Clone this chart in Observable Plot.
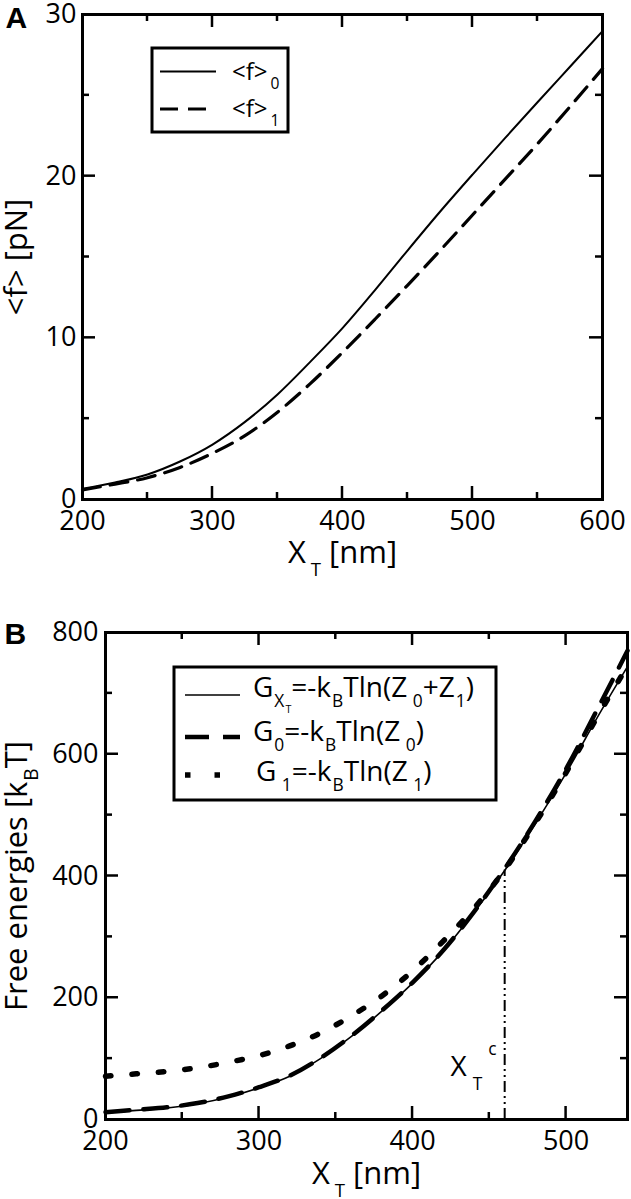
<!DOCTYPE html>
<html>
<head>
<meta charset="utf-8">
<script src="https://cdn.jsdelivr.net/npm/d3@7"></script>
<script src="https://cdn.jsdelivr.net/npm/@observablehq/plot@0.6"></script>
<style>
  html, body { margin: 0; padding: 0; background: #fff; }
  #wrap { width: 631px; height: 1199px; overflow: hidden; }
  #wrap svg { display: block; }
</style>
</head>
<body>
<div id="wrap"></div>
<script>
// ---------- Panel A data: mean force vs trap position ----------
const xA = [200, 225, 250, 275, 300, 325, 350, 375, 400, 425, 450, 475, 500, 525, 550, 575, 600];
const f0 = [0.66, 1.05, 1.55, 2.35, 3.4, 4.8, 6.5, 8.5, 10.6, 12.95, 15.4, 17.8, 20.1, 22.35, 24.57, 26.77, 28.97];
const f1 = [0.6, 0.95, 1.35, 1.98, 2.86, 3.95, 5.4, 7.15, 9.1, 11.15, 13.25, 15.4, 17.6, 19.8, 22.0, 24.3, 26.65];
const xDomainA = [200, 600];
const yDomainA = [0, 30];
const xTicksA = [200, 300, 400, 500, 600];
const xMinorA = [250, 350, 450, 550];
const yTicksA = [0, 10, 20, 30];
const yMinorA = [5, 15, 25];
const legendA = ["<f>_{0}", "<f>_{1}"];

// ---------- Panel B data: free energies vs trap position ----------
const xB = [200, 220, 240, 260, 280, 300, 320, 340, 360, 380, 400, 420, 440, 460, 480, 500, 520, 540];
const gXT = [11, 15, 19, 26, 37, 52, 71, 100, 136, 178, 224, 277, 340, 409, 486, 569, 659, 744];
const g0  = [12, 16, 20, 27, 38, 53, 72, 101, 137, 179, 225, 278, 341, 412, 490, 576, 672, 770];
const g1  = [71, 75, 79, 85, 94, 105, 121, 142, 170, 203, 244, 293, 347, 410, 487, 570, 660, 745];
const xDomainB = [200, 540];
const yDomainB = [0, 800];
const xTicksB = [200, 300, 400, 500];
const xMinorB = [250, 350, 450];
const yTicksB = [0, 200, 400, 600, 800];
const yMinorB = [100, 300, 500, 700];
const xCrit = 460;   // X_T^c
const gCrit = 410;   // free energy at the crossing
const legendB = ["G_{X_{T}}=-k_{B}Tln(Z_{ 0}+Z_{1})", "G_{0}=-k_{B}Tln(Z_{ 0})", "G_{ 1}=-k_{B}Tln(Z_{ 1})"];

// ---------- helpers ----------
const SVGNS = "http://www.w3.org/2000/svg";
const FONT = "Open Sans";

function parseRich(s) {
  const out = [];
  let i = 0;
  function rec(stack) {
    let buf = "";
    while (i < s.length) {
      const c = s[i];
      if (c === "_" || c === "^") {
        if (buf) { out.push({t: buf, stack: stack.slice()}); buf = ""; }
        i++;
        const type = c === "_" ? "sub" : "sup";
        if (s[i] === "{") { i++; rec(stack.concat(type)); }
        else { out.push({t: s[i], stack: stack.concat(type)}); i++; }
      } else if (c === "}") { i++; break; }
      else { buf += c; i++; }
    }
    if (buf) out.push({t: buf, stack: stack.slice()});
  }
  rec([]);
  return out;
}

function richify(el, str, o) {
  const base = o.size, scale = o.scale ?? 0.62, subS = o.sub ?? 0.38, supS = o.sup ?? 0.5, gap = o.gap ?? 2;
  while (el.firstChild) el.removeChild(el.firstChild);
  let cur = 0, prevKey = "";
  for (const seg of parseRich(str)) {
    let size = base, shift = 0;
    for (const t of seg.stack) { shift += t === "sub" ? subS * size : -supS * size; size *= scale; }
    const key = seg.stack.join(",");
    const ts = document.createElementNS(SVGNS, "tspan");
    ts.setAttribute("font-size", size);
    if (shift - cur !== 0) ts.setAttribute("dy", shift - cur);
    if (seg.stack.length > 0 && key !== prevKey && !prevKey.startsWith(key + ",")) ts.setAttribute("dx", gap);
    ts.textContent = seg.t;
    el.appendChild(ts);
    cur = shift; prevKey = key;
  }
}

function rewrite(svg, str, o) {
  for (const t of svg.querySelectorAll("text")) if (t.textContent === str) richify(t, str, o);
}

function addText(parent, x, y, str, o) {
  const t = document.createElementNS(SVGNS, "text");
  t.setAttribute("x", x); t.setAttribute("y", y);
  t.setAttribute("font-family", FONT);
  t.setAttribute("font-size", o.size);
  t.setAttribute("text-anchor", "start");
  t.setAttribute("fill", "black");
  parent.appendChild(t);
  richify(t, str, o);
  return t;
}

function svgLine(parent, x1, y1, x2, y2, sw, dash) {
  const l = document.createElementNS(SVGNS, "line");
  l.setAttribute("x1", x1); l.setAttribute("x2", x2); l.setAttribute("y1", y1); l.setAttribute("y2", y2);
  l.setAttribute("stroke", "black"); l.setAttribute("stroke-width", sw);
  if (dash) l.setAttribute("stroke-dasharray", dash);
  parent.appendChild(l);
  return l;
}

// inward ticks on all four sides, positioned with the plot's own scales
function drawFrameTicks(svg, xMaj, xMin, yMaj, yMin) {
  const sx = svg.scale("x"), sy = svg.scale("y");
  const xl = Math.min(...sx.range), xr = Math.max(...sx.range);
  const yb = Math.max(...sy.range), yt = Math.min(...sy.range);
  for (const [arr, L] of [[xMaj, 13], [xMin, 7]]) for (const v of arr) {
    const x = sx.apply(v);
    svgLine(svg, x, yb, x, yb - L, 2.5);
    svgLine(svg, x, yt, x, yt + L, 2.5);
  }
  for (const [arr, L] of [[yMaj, 13], [yMin, 7]]) for (const v of arr) {
    const y = sy.apply(v);
    svgLine(svg, xl, y, xl + L, y, 2.5);
    svgLine(svg, xr, y, xr - L, y, 2.5);
  }
}

const interior = (ticks, dom) => ticks.filter(t => t > dom[0] && t < dom[1]);
const baseStyle = {fontFamily: FONT, fontSize: "27px", background: "white", color: "black", overflow: "visible"};

// ---------- Panel A ----------
const A = {width: 631, height: 590, mt: 14, mr: 29, mb: 91, ml: 82};
const dataA = xA.map((x, i) => ({x, f0: f0[i], f1: f1[i]}));

const plotA = Plot.plot({
  width: A.width, height: A.height,
  marginTop: A.mt, marginRight: A.mr, marginBottom: A.mb, marginLeft: A.ml,
  x: {domain: xDomainA}, y: {domain: yDomainA},
  style: baseStyle,
  marks: [
    Plot.line(dataA, {x: "x", y: "f0", stroke: "black", strokeWidth: 2, curve: "monotone-x"}),
    Plot.line(dataA, {x: "x", y: "f1", stroke: "black", strokeWidth: 3.2, strokeDasharray: "18,10", curve: "monotone-x"}),
    Plot.frame({stroke: "black", strokeWidth: 3}),
    Plot.axisX({ticks: xTicksA, tickSize: 0, tickPadding: 11, label: null, tickFormat: d => String(d)}),
    Plot.axisY({ticks: yTicksA, tickSize: 0, tickPadding: 6, label: null, tickFormat: d => String(d)}),
    Plot.text(["X_{T} [nm]"], {text: d => d, frameAnchor: "bottom", dy: 63, lineAnchor: "bottom", textAnchor: "middle", fontSize: 31}),
    Plot.text(["<f> [pN]"], {text: d => d, frameAnchor: "left", dx: -65, rotate: -90, lineAnchor: "middle", textAnchor: "middle", fontSize: 31}),
    Plot.text(["A"], {text: d => d, frameAnchor: "top-left", dx: -77, dy: 13, lineAnchor: "bottom", textAnchor: "start", fontSize: 30, fontWeight: "bold", fontFamily: "Liberation Sans"})
  ]
});

// ---------- Panel B ----------
const B = {width: 631, height: 609, mt: 42, mr: 4, mb: 80, ml: 105};
const dataB = xB.map((x, i) => ({x, gXT: gXT[i], g0: g0[i], g1: g1[i]}));

const plotB = Plot.plot({
  width: B.width, height: B.height,
  marginTop: B.mt, marginRight: B.mr, marginBottom: B.mb, marginLeft: B.ml,
  x: {domain: xDomainB}, y: {domain: yDomainB},
  style: baseStyle,
  marks: [
    Plot.line(dataB, {x: "x", y: "g1", stroke: "black", strokeWidth: 5.5, strokeDasharray: "5.5,21", curve: "monotone-x"}),
    Plot.line(dataB, {x: "x", y: "g0", stroke: "black", strokeWidth: 4.5, strokeDasharray: "24,14", curve: "monotone-x"}),
    Plot.line(dataB, {x: "x", y: "gXT", stroke: "black", strokeWidth: 1.6, curve: "monotone-x"}),
    Plot.ruleX([xCrit], {x: d => d, y1: () => 0, y2: () => gCrit, stroke: "black", strokeWidth: 2, strokeDasharray: "11,4,2,4,2,4"}),
    Plot.text([xCrit], {x: d => d, text: () => "X_{T}^{c}", frameAnchor: "bottom", dy: -44, dx: -8, textAnchor: "end", lineAnchor: "bottom", fontSize: 28}),
    Plot.frame({stroke: "black", strokeWidth: 3}),
    Plot.axisX({ticks: xTicksB, tickSize: 0, tickPadding: 11, label: null, tickFormat: d => String(d)}),
    Plot.axisY({ticks: yTicksB, tickSize: 0, tickPadding: 7, label: null, tickFormat: d => String(d)}),
    Plot.text(["X_{T} [nm]"], {text: d => d, frameAnchor: "bottom", dy: 64, lineAnchor: "bottom", textAnchor: "middle", fontSize: 31}),
    Plot.text(["Free energies [k_{B}T]"], {text: d => d, frameAnchor: "left", dx: -88, rotate: -90, lineAnchor: "middle", textAnchor: "middle", fontSize: 31}),
    Plot.text(["B"], {text: d => d, frameAnchor: "top-left", dx: -101, dy: 11, lineAnchor: "bottom", textAnchor: "start", fontSize: 30, fontWeight: "bold", fontFamily: "Liberation Sans"})
  ]
});

const wrap = document.getElementById("wrap");
wrap.appendChild(plotA);
wrap.appendChild(plotB);

// rich text (sub/superscripts) for titles
rewrite(plotA, "X_{T} [nm]", {size: 31, sub: 0.42, scale: 0.6, gap: 5});
rewrite(plotB, "X_{T} [nm]", {size: 31, sub: 0.42, scale: 0.6, gap: 5});
rewrite(plotB, "Free energies [k_{B}T]", {size: 31, sub: 0.35, scale: 0.62, gap: 1});
rewrite(plotB, "X_{T}^{c}", {size: 28, sub: 0.5, sup: 0.72, scale: 0.62, gap: 6});

// ---------- legends ----------
function legendBox(svg, x, y, w, h) {
  const r = document.createElementNS(SVGNS, "rect");
  r.setAttribute("x", x); r.setAttribute("y", y); r.setAttribute("width", w); r.setAttribute("height", h);
  r.setAttribute("fill", "white"); r.setAttribute("stroke", "black"); r.setAttribute("stroke-width", 3);
  svg.appendChild(r);
}

// Legend A
legendBox(plotA, 152, 48, 136, 84);
svgLine(plotA, 160, 71.5, 216, 71.5, 2);
svgLine(plotA, 160, 109, 208, 109, 3.2, "18,10");
addText(plotA, 232, 80, legendA[0], {size: 24, sub: 0.38, scale: 0.65, gap: 3});
addText(plotA, 232, 117, legendA[1], {size: 24, sub: 0.38, scale: 0.65, gap: 3});

// Legend B (svg B starts at page y = 590)
legendBox(plotB, 174, 77, 322, 133);
svgLine(plotB, 185, 105, 240, 105, 1.6);
svgLine(plotB, 185, 147, 240, 147, 4.5, "24,14");
svgLine(plotB, 185, 185, 240, 185, 5.5, "5.5,24");
addText(plotB, 253, 107, legendB[0], {size: 28, sub: 0.35, scale: 0.62, gap: 1});
addText(plotB, 253, 151, legendB[1], {size: 28, sub: 0.35, scale: 0.62, gap: 1});
addText(plotB, 256, 191, legendB[2], {size: 28, sub: 0.35, scale: 0.62, gap: 1});

// frame ticks (major + minor, all four sides), drawn last
drawFrameTicks(plotA, interior(xTicksA, xDomainA), xMinorA, interior(yTicksA, yDomainA), yMinorA);
drawFrameTicks(plotB, interior(xTicksB, xDomainB), xMinorB, interior(yTicksB, yDomainB), yMinorB);
</script>
</body>
</html>
